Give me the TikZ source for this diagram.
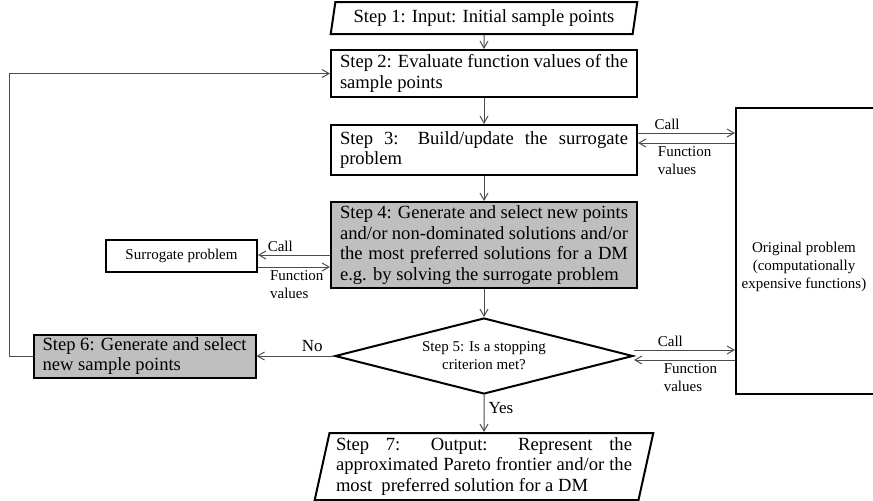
\documentclass[tikz,border=0pt]{standalone}
\usepackage{fontspec}
\setmainfont{Liberation Serif}
\usetikzlibrary{shapes.geometric,arrows.meta}
\tikzset{
	stepbox/.style={draw,line width=1pt,inner xsep=4.5pt,inner ysep=0pt,text width=144pt,align=justify,font=\fontsize{9.3}{10.4}\selectfont},
	greybox/.style={stepbox,fill=black!25},
	iobox/.style={draw,line width=1pt,trapezium,trapezium left angle=76,trapezium right angle=104,trapezium stretches=true,inner xsep=2pt,inner ysep=0pt,font=\fontsize{9.3}{10.4}\selectfont},
	decision/.style={draw,line width=1pt,diamond,aspect=4,inner sep=0pt,minimum width=149pt,minimum height=38pt,align=center,font=\fontsize{7.5}{9}\selectfont},
	plainbox/.style={draw,line width=1pt,align=center,inner sep=0pt,font=\fontsize{7.5}{9}\selectfont},
	flow/.style={draw=black!70,line width=0.5pt,-{Straight Barb[length=3.5pt,width=4pt]}},
	note/.style={font=\fontsize{7.5}{9}\selectfont,align=left,inner sep=1.5pt},
	answer/.style={font=\fontsize{8.5}{10}\selectfont,inner sep=2pt}
}
\begin{document}
\begin{tikzpicture}[x=0.5pt,y=-0.5pt]
	\useasboundingbox (0,0) rectangle (873,500);
	% main column
	\node [iobox,minimum width=153.5pt,minimum height=16pt,align=center] (s1) at (484,18) {Step 1: Input: Initial sample points};
	\node [stepbox,minimum height=23.5pt] (s2) at (484,73.5) {Step 2: Evaluate function values of the\linebreak sample points};
	\node [stepbox,minimum height=25pt] (s3) at (484,150) {Step 3: Build/update the surrogate\linebreak problem};
	\node [greybox,minimum height=43pt] (s4) at (484,245) {Step 4: Generate and select new points\linebreak and/or non-dominated solutions and/or\linebreak the most preferred solutions for a DM\linebreak e.g. by solving the surrogate problem};
	\node [decision] (s5) at (484,356) {Step 5: Is a stopping\\criterion met?};
	\node [iobox,text width=148pt,align=justify,minimum width=169.5pt,minimum height=33.5pt] (s7) at (484,466.5) {Step 7: Output: Represent the\linebreak approximated Pareto frontier and/or the\linebreak most~ preferred solution for a DM};
	% side boxes
	\node [greybox,text width=102pt,minimum height=21.5pt] (s6) at (144.5,356) {Step 6: Generate and select\linebreak new sample points};
	\node [plainbox,minimum width=75.5pt,minimum height=16pt] (sur) at (181.5,256) {Surrogate problem};
	\node [plainbox,minimum width=69pt,minimum height=143pt] (orig) at (805,251) {};
	\node [note,align=center] (origtext) at (804,267) {Original problem\\(computationally\\expensive functions)};

	\draw [flow] (s1.south) -- (s2.north);
	\draw [flow] (s2.south) -- (s3.north);
	\draw [flow] (s3.south) -- (s4.north);
	\draw [flow] (s4.south) -- (s5.north);
	\draw [flow] (s5.south) -- node [answer,right,pos=0.35] {Yes} (s7.north);
	\draw [flow] (s5.west) -- node [answer,above,pos=0.28] {No} (s6.east);
	\draw [flow] (s6.west) -- ++(-23,0) |- (s2.west);

	\draw [flow] ([yshift=8.5pt]s3.east) -- node [note,above,pos=0.3] {Call} ([yshift=8.5pt]s3.east -| orig.west);
	\draw [flow] ([yshift=3.5pt]s3.east -| orig.west) -- node [note,anchor=north west,pos=0.83] {Function\\values} ([yshift=3.5pt]s3.east);
	\draw [flow] ([yshift=0.5pt]sur.east -| s4.west) -- node [note,above,pos=0.69] {Call} ([yshift=0.5pt]sur.east);
	\draw [flow] ([yshift=-5.5pt]sur.east) -- node [note,anchor=north west,pos=0.12] {Function\\values} ([yshift=-5.5pt]sur.east -| s4.west);
	\draw [flow] ([yshift=3pt]s5.east) -- node [note,above,pos=0.36] {Call} ([yshift=3pt]s5.east -| orig.west);
	\draw [flow] ([yshift=-2pt]s5.east -| orig.west) -- node [note,anchor=north west,pos=0.74] {Function\\values} ([yshift=-2pt]s5.east);
\end{tikzpicture}
\end{document}
